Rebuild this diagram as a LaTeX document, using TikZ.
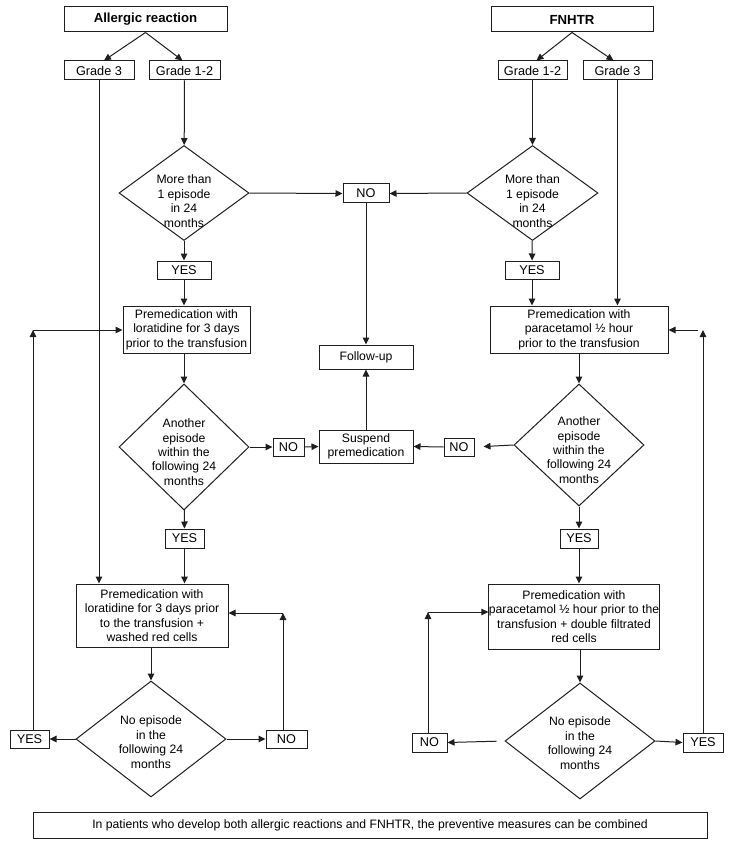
\documentclass[tikz,border=0pt]{standalone}
\usepackage{fontspec}
\setmainfont{Liberation Sans}
\usetikzlibrary{arrows.meta,shapes.geometric}
\definecolor{ink}{RGB}{30,30,30}
\newcommand{\bigtxt}{\fontsize{13.2}{15}\selectfont}
\newcommand{\tagtxt}{\fontsize{12.7}{15}\selectfont}
\newcommand{\boxtxt}{\fontsize{12.2}{14.4}\selectfont}
\tikzset{
  flow/.style={-{Triangle[length=7pt,width=6.5pt]},line width=1pt,draw=ink},
  head/.style={draw=ink,line width=1pt,fill=white,inner sep=0pt,font=\bigtxt\bfseries,minimum height=25pt},
  tag/.style={draw=ink,line width=1pt,fill=white,inner sep=0pt,font=\tagtxt,minimum height=19pt},
  stage/.style={draw=ink,line width=1pt,fill=white,align=center,inner sep=0pt,font=\boxtxt},
  query/.style={diamond,draw=ink,line width=1pt,fill=white,align=center,inner sep=-14pt,font=\boxtxt},
  note/.style={draw=ink,line width=1pt,fill=white,inner sep=0pt,font=\boxtxt,minimum width=674pt,minimum height=26pt}
}
\begin{document}
\begin{tikzpicture}[x=1pt,y=-1pt]
  \useasboundingbox (0,0) rectangle (730,850);
  \node[head,minimum width=163pt] (hdA) at (145.5,19.5) {Allergic reaction};
  \node[head,minimum width=162pt] (hdF) at (572,19.5) {FNHTR};
  \node[tag,minimum width=70pt] (g3A) at (99,70.5) {Grade 3};
  \node[tag,minimum width=71pt] (g12A) at (184.5,70.5) {Grade 1-2};
  \node[tag,minimum width=69pt] (g12F) at (532.5,70.5) {Grade 1-2};
  \node[tag,minimum width=69pt] (g3F) at (617.5,70.5) {Grade 3};
  \node[query,minimum width=130pt,minimum height=95pt] (dA1) at (184,193) {\rule{0pt}{25pt}More than\\1 episode\\in 24\\months};
  \node[query,minimum width=131pt,minimum height=95pt] (dF1) at (532.5,193) {\rule{0pt}{25pt}More than\\1 episode\\in 24\\months};
  \node[tag,minimum width=46pt] (noTop) at (366,193.5) {NO};
  \node[tag,minimum width=54pt,minimum height=18pt] (yesA1) at (184,270) {YES};
  \node[tag,minimum width=54pt,minimum height=18pt] (yesF1) at (532,270) {YES};
  \node[stage,minimum width=127pt,minimum height=47pt] (pmA1) at (186.5,329.5) {Premedication with\\loratidine for 3 days\\prior to the transfusion};
  \node[stage,minimum width=178pt,minimum height=47pt] (pmF1) at (579,329.5) {Premedication with\\paracetamol ½ hour\\prior to the transfusion};
  \node[stage,minimum width=94pt,minimum height=24pt] (follow) at (366,357) {Follow-up};
  \node[stage,minimum width=94pt,minimum height=33pt] (suspend) at (366,446.5) {Suspend\\premedication};
  \node[query,minimum width=130pt,minimum height=126pt] (dA2) at (184,447) {\rule{0pt}{19pt}Another\\episode\\within the\\following 24\\months};
  \node[query,minimum width=130pt,minimum height=122pt] (dF2) at (579,445) {\rule{0pt}{19pt}Another\\episode\\within the\\following 24\\months};
  \node[tag,minimum width=31pt,minimum height=18pt] (noA2) at (288.5,447) {NO};
  \node[tag,minimum width=30pt,minimum height=18pt] (noF2) at (459,447) {NO};
  \node[tag,minimum width=39pt] (yesA2) at (184.5,538.5) {YES};
  \node[tag,minimum width=38pt] (yesF2) at (579,538.5) {YES};
  \node[stage,minimum width=152pt,minimum height=63pt] (pmA2) at (152,615.5) {Premedication with\\loratidine for 3 days prior\\to the transfusion +\\washed red cells};
  \node[stage,minimum width=168pt,minimum height=65pt] (pmF2) at (574,616.5) {Premedication with\\paracetamol ½ hour prior to the\\transfusion + double filtrated\\red cells};
  \node[query,minimum width=150pt,minimum height=116pt] (dA3) at (151,739) {\rule{0pt}{15pt}No episode\\in the\\following 24\\months};
  \node[query,minimum width=150pt,minimum height=116pt] (dF3) at (580,741) {\rule{0pt}{13pt}No episode\\in the\\following 24\\months};
  \node[tag,minimum width=39pt,minimum height=18pt] (yesA3) at (29.5,739) {YES};
  \node[tag,minimum width=41pt,minimum height=18pt] (noA3) at (286.5,739) {NO};
  \node[tag,minimum width=35pt] (noF3) at (429.5,742.5) {NO};
  \node[tag,minimum width=40pt] (yesF3) at (703,742.5) {YES};
  \node[note] (note) at (370,825) {In patients who develop both allergic reactions and FNHTR, the preventive measures can be combined};
  \coordinate (loopA) at (33,330);
  \coordinate (loopB) at (283,613);
  \coordinate (loopC) at (428,612);
  \coordinate (loopD) at (703,330);
  \draw[flow] (hdA.south)--([xshift=5pt]g3A.north); \draw[flow] (hdA.south)--([xshift=-2pt]g12A.north);
  \draw[flow] (hdF.south)--([xshift=4pt]g12F.north); \draw[flow] (hdF.south)--([xshift=-4pt]g3F.north);
  \draw[flow] (g12A)--(dA1); \draw[flow] (g12F)--(dF1);
  \draw[flow] (g3A.south)--(g3A.south |- pmA2.north); \draw[flow] (g3F.south)--(g3F.south |- pmF1.north);
  \draw[flow] (dA1.east)--(noTop.west); \draw[flow] (dF1.west)--(noTop.east);
  \draw[flow] (dA1)--(yesA1); \draw[flow] (dF1)--(yesF1);
  \draw[flow] (yesA1.south)--(yesA1.south |- pmA1.north); \draw[flow] (yesF1.south)--(yesF1.south |- pmF1.north);
  \draw[flow] (noTop)--(follow); \draw[flow] (suspend)--(follow);
  \draw[flow] (dA2.north |- pmA1.south)--(dA2.north); \draw[flow] (pmF1.south)--(dF2.north);
  \draw[flow] (dA2.east)--(noA2.west); \draw[flow] (noA2.east)--(suspend.west);
  \draw[flow,shorten >=9pt] (dF2.west)--(noF2.east); \draw[flow] (noF2.west)--(suspend.east);
  \draw[flow] (dA2)--(yesA2); \draw[flow] (dF2)--(yesF2);
  \draw[flow] (yesA2.south)--(yesA2.south |- pmA2.north); \draw[flow] (yesF2.south)--(yesF2.south |- pmF2.north);
  \draw[flow] (dA3.north |- pmA2.south)--(dA3.north); \draw[flow] (dF3.north |- pmF2.south)--(dF3.north);
  \draw[flow] (dA3.west)--(yesA3.east); \draw[flow] (dA3.east)--(noA3.west);
  \draw[flow,shorten <=8pt] (dF3.west)--(noF3.east); \draw[flow] (dF3.east)--(yesF3.west);
  \draw[flow] (loopA |- yesA3.north)--(loopA); \draw[flow] (loopA)--(loopA -| pmA1.west);
  \draw[flow] (loopB |- noA3.north)--(loopB); \draw[flow] (loopB)--(loopB -| pmA2.east);
  \draw[flow] (loopC |- noF3.north)--(loopC); \draw[flow] (loopC)--(loopC -| pmF2.west);
  \draw[flow] (yesF3.north)--(loopD); \draw[flow,shorten <=5pt] (loopD)--(loopD -| pmF1.east);
\end{tikzpicture}
\end{document}
